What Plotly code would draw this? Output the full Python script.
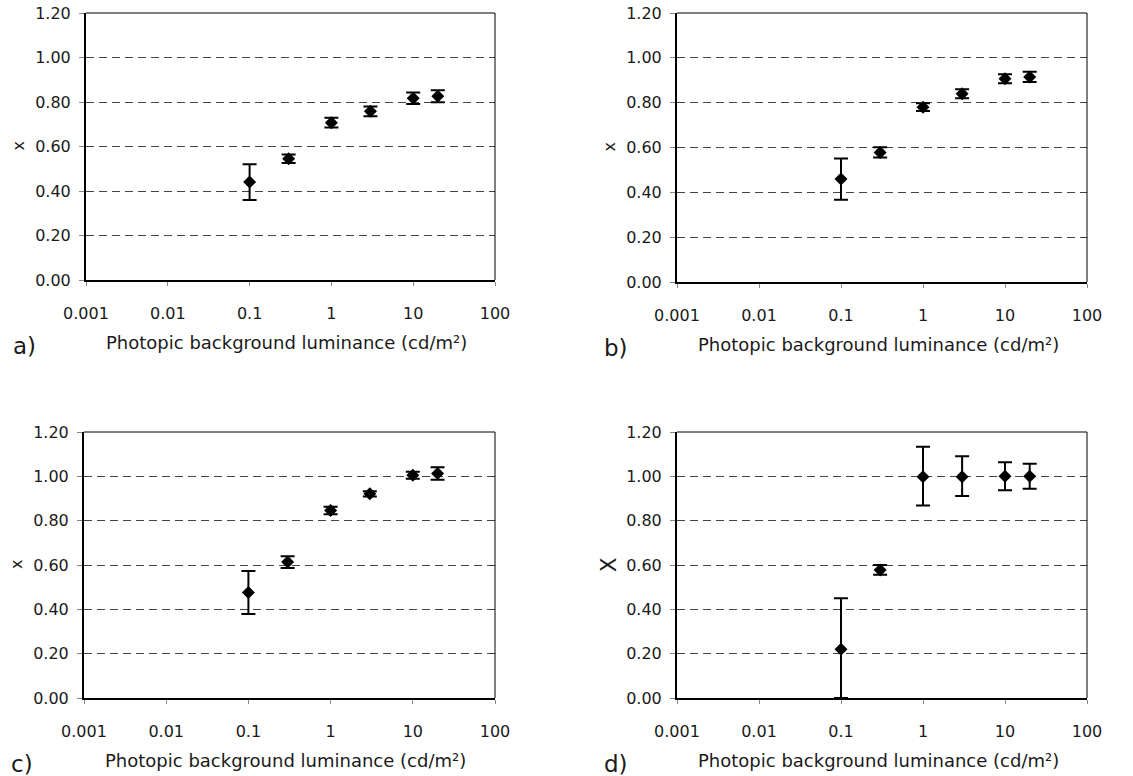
import plotly.graph_objects as go

# ---------------- data ----------------
luminance = [0.1, 0.3, 1, 3, 10, 20]

a_vals = [0.44, 0.545, 0.707, 0.758, 0.817, 0.826]
a_err = [0.08, 0.019, 0.022, 0.022, 0.026, 0.027]

b_vals = [0.459, 0.578, 0.780, 0.840, 0.907, 0.915]
b_err = [0.092, 0.023, 0.017, 0.02, 0.02, 0.023]

c_vals = [0.476, 0.613, 0.846, 0.921, 1.005, 1.013]
c_err = [0.097, 0.026, 0.017, 0.012, 0.016, 0.028]

d_vals = [0.22, 0.578, 0.998, 0.998, 1.0, 1.0]
d_err_plus = [0.23, 0.022, 0.135, 0.093, 0.063, 0.057]
d_err_minus = [0.22, 0.022, 0.13, 0.087, 0.063, 0.056]

x_tickvals = [0.001, 0.01, 0.1, 1, 10, 100]
x_ticktext = ["0.001", "0.01", "0.1", "1", "10", "100"]
y_tickvals = [0.0, 0.2, 0.4, 0.6, 0.8, 1.0, 1.2]
y_ticktext = ["0.00", "0.20", "0.40", "0.60", "0.80", "1.00", "1.20"]

panel_labels = ["a)", "b)", "c)", "d)"]
y_titles = ["x", "x", "x", "X"]
x_title = "Photopic background luminance (cd/m²)"

# ---------------- layout geometry ----------------
W, H = 1133, 776
FONT = "DejaVu Sans"
TXT = "#1a1a1a"

# target pixel boxes in the window (left, right, top, bottom)
boxes = [
    (86, 495, 13, 280),
    (677, 1087, 13, 282),
    (84, 495, 432, 698),
    (677, 1087, 432, 698),
]

def fx(px):
    return px / W

def fy(py):
    return 1 - py / H

series = [
    (a_vals, a_err, a_err),
    (b_vals, b_err, b_err),
    (c_vals, c_err, c_err),
    (d_vals, d_err_plus, d_err_minus),
]

fig = go.Figure()
layout = dict(
    width=W, height=H,
    margin=dict(l=0, r=0, t=0, b=0, pad=0),
    paper_bgcolor="white", plot_bgcolor="white",
    showlegend=False,
    font=dict(family=FONT, size=16, color=TXT),
)

annotations = []
shapes = []
for i, ((l, r, t, b), (vals, ep, em)) in enumerate(zip(boxes, series)):
    n = "" if i == 0 else str(i + 1)
    xa, ya = "x" + n, "y" + n
    fig.add_trace(go.Scatter(
        x=luminance, y=vals, mode="markers",
        marker=dict(symbol="diamond", size=10, color="black"),
        error_y=dict(type="data", array=ep, arrayminus=em, symmetric=False,
                     color="black", thickness=2, width=7),
        xaxis=xa, yaxis=ya, cliponaxis=False,
    ))
    layout["xaxis" + n] = dict(
        domain=[fx(l), fx(r)], anchor=ya, type="log", range=[-3, 2],
        automargin=False, ticklabeloverflow="allow",
        tickvals=x_tickvals, ticktext=x_ticktext,
        ticks="outside", ticklen=4, tickwidth=1, tickcolor="#888888",
        ticklabelstandoff=14,
        showline=True, linecolor="black", linewidth=2,
        showgrid=False, zeroline=False,
        tickfont=dict(family=FONT, size=16, color=TXT),
    )
    layout["yaxis" + n] = dict(
        domain=[fy(b), fy(t)], anchor=xa, range=[0, 1.2],
        automargin=False, ticklabeloverflow="allow",
        tickvals=y_tickvals, ticktext=y_ticktext,
        ticks="outside", ticklen=5, tickwidth=1, tickcolor="#888888",
        ticklabelstandoff=5,
        showline=True, linecolor="black", linewidth=2,
        showgrid=True, gridcolor="#444444", gridwidth=1, griddash="8px,5px",
        zeroline=False,
        tickfont=dict(family=FONT, size=16, color=TXT),
    )
    # thin top/right border
    shapes.append(dict(type="line", xref=xa + " domain", yref=ya + " domain",
                       x0=0, x1=1, y0=1, y1=1, line=dict(color="black", width=1)))
    shapes.append(dict(type="line", xref=xa + " domain", yref=ya + " domain",
                       x0=1, x1=1, y0=0, y1=1, line=dict(color="black", width=1)))
    # x-axis title
    annotations.append(dict(
        text=x_title, xref="paper", yref="paper",
        x=fx((l + r) / 2 - 4), y=fy(b + 62), xanchor="center", yanchor="middle",
        showarrow=False, font=dict(family=FONT, size=18, color=TXT),
    ))
    # y-axis title
    annotations.append(dict(
        text=y_titles[i], xref="paper", yref="paper",
        x=fx(l - 68), y=fy(t + (b - t) * 0.5), xanchor="center", yanchor="middle",
        textangle=-90, showarrow=False,
        font=dict(family=FONT, size=16 if i < 3 else 21, color=TXT),
    ))
    # panel label
    annotations.append(dict(
        text=panel_labels[i], xref="paper", yref="paper",
        x=fx(l - 75), y=fy(b + 66), xanchor="left", yanchor="middle",
        showarrow=False, font=dict(family=FONT, size=23, color=TXT),
    ))

layout["annotations"] = annotations
layout["shapes"] = shapes
fig.update_layout(**layout)
fig.write_html(
    "out.html",
    config={"displayModeBar": False, "staticPlot": True},
    post_script="document.body.style.margin='0px';document.body.style.overflow='hidden';",
)
